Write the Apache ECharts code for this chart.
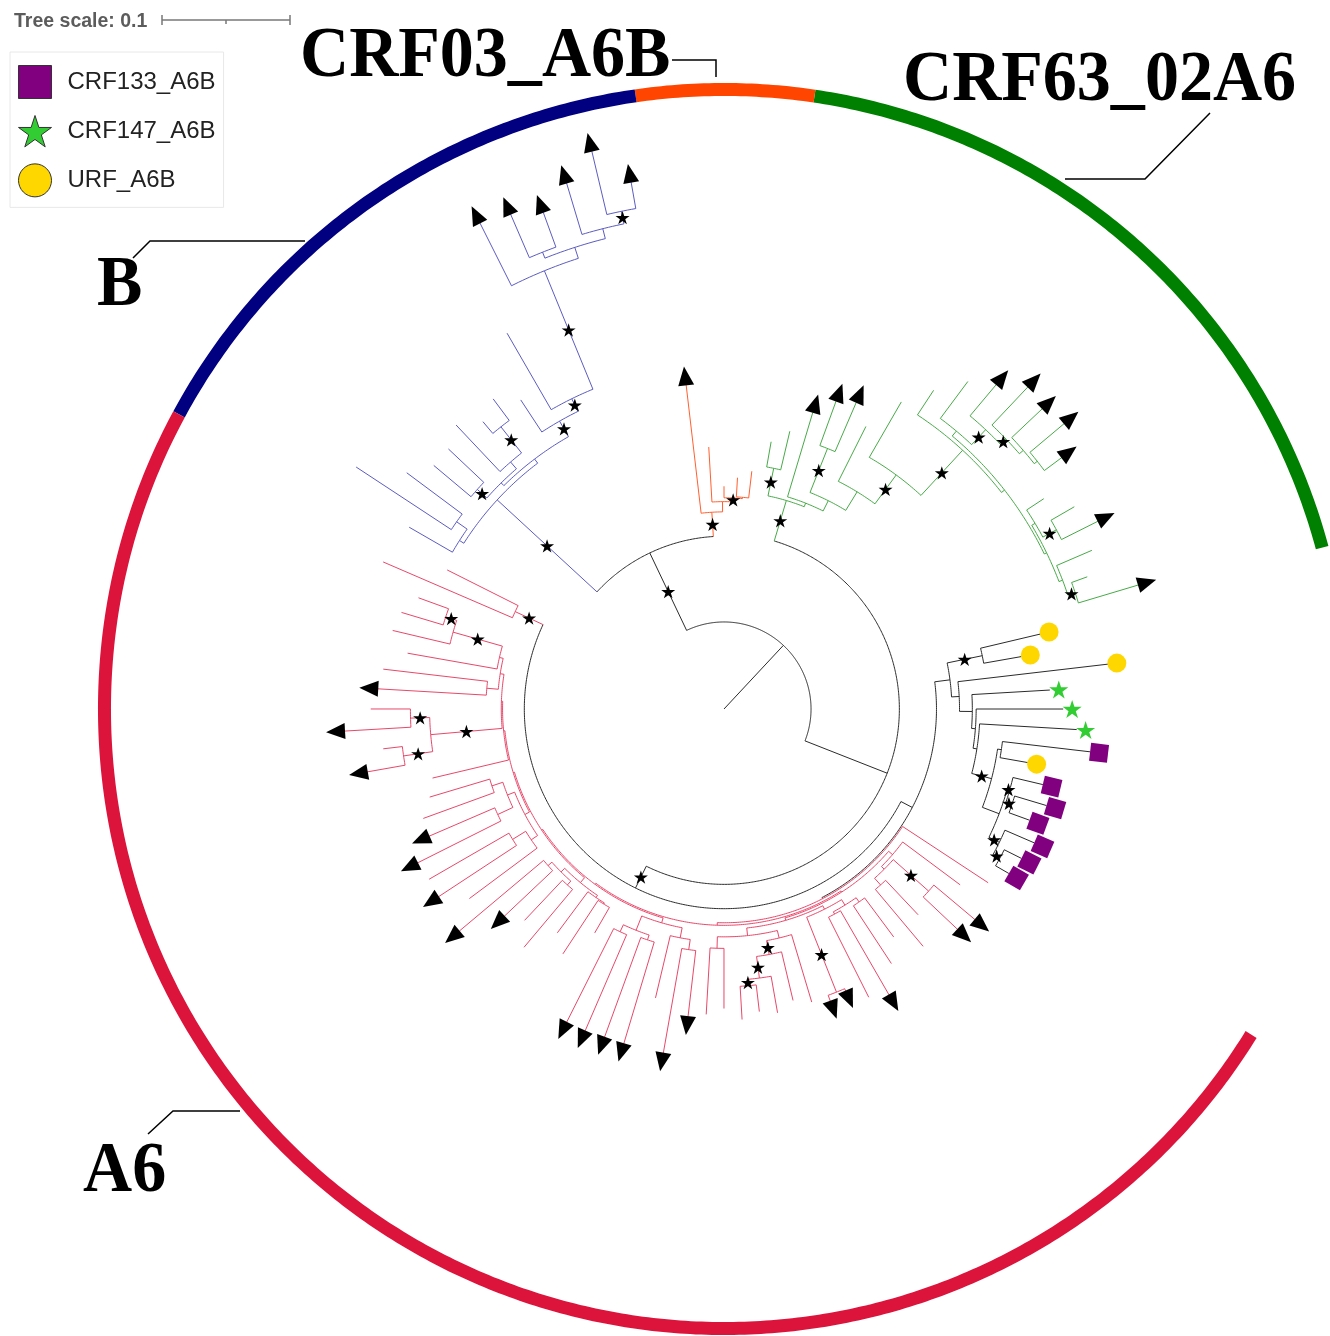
<!DOCTYPE html>
<html><head><meta charset="utf-8">
<script src="https://cdn.jsdelivr.net/npm/echarts@6/dist/echarts.min.js"></script>
<style>html,body{margin:0;padding:0;background:#fff}#c{width:1330px;height:1336px}</style>
</head><body><div id="c"></div>
<script>
// ================= DATA =================
// Newick topology. Number after ':' = node depth (distance from the tree centre,
// in 0.001 substitutions/site). Leaf marks: t = reference (triangle),
// q = CRF133_A6B, s = CRF147_A6B, y = URF_A6B. '*' = supported node (bootstrap star).
// Upper-case leaf names are sub-clades defined below.
const treeBackbone = "(((RED2,(REDX,BLACK):166)*:156,GREEN):137,(ORANGE,BLUE)*:135):68";
const cladeRed2 = "(:242,:290)*:180";
const cladeRedX = "((((((RGA,:234):173,RA2):172,RA3):171,RA4):170,((RA5,RA6):172,RA7):170):169,:247):167";
const subRedGA = "(((((:254,:263)*:229,:266)*:220,:251):180,(:268,t:271):186):177,((:276,t:297)*:245,(:268,t:283)*:253)*:230):174";
const subRedA2 = "(((:240,:250):191,(t:251,t:268):195):182,((:266,t:267):194,:248):182):176";
const subRedA3 = "(((t:270,t:236):184,(:227,:243):184):180,(:218,(:229,:202):179):178):176";
const subRedA4 = "(((t:274,t:274):192,(t:273,t:273):190):186,(:232,(t:273,t:242):190):182):174";
const subRedA5 = "((:239,:234):187,((((:243,:238)*:217,:241)*:212,:234)*:195,:239):184):178";
const subRedA6 = "((t:243,t:240)*:238,((:252,t:258):182,(:238,:222):184):180):175";
const subRedA7 = "(((:242,:221):184,(t:251,t:256)*:214):177,:230):174";
const cladeBlack = "(((((((((q:257,q:260)*:245,q:264)*:239,((q:254,q:263)*:237,q:256)*:232):230,(y:241,q:288):219)*:216,s:276):200,s:265):197,s:255):194,y:302):184,(y:236,y:254)*:206):178";
const cladeGreen = "((((((((((t:338,:302)*:289,:313):283,((t:327,:316)*:295,:299):283):280,(((((t:329,t:347):312,t:342):309,t:346)*:305,t:331)*:299,:319):283):278,:298)*:275,:277)*:227,:247):199,(t:261,t:256)*:219):182,t:242):173,(:223,:212)*:192)*:170";
const cladeOrange = "((((:187,:181):166,:174)*:165,:205):162,t:255)*:154";
const cladeBlue = "((((((((t:418,t:448)*:397,t:429):387,(t:413,t:421):384):379,t:425)*:370,:339)*:270,:289)*:259,(((:302,:293)*:281,:305):255,(:296,:296)*:258):248):245,((:309,:344):255,:284):245)*:241";

const firstLeafAngle = 153.33;           // degrees, counter-clockwise from east
const lineColors = ['#2b2b2b', '#e8486a', '#5c5cc2', '#48aa48', '#ff6030'];
const cladeColorIndex = {RED2: 1, REDX: 1, BLACK: 0, GREEN: 3, ORANGE: 4, BLUE: 2};

const ringNames  = ['CRF63_02A6', 'CRF03_A6B', 'B', 'A6'];
const ringFrom   = [15.1, 81.6, 98.2, 151.6];
const ringTo     = [81.6, 98.2, 151.6, 328.3];
const ringColors = ['#008000', '#FF4500', '#000080', '#DC143C'];
const ringDepth  = 484;

const legendNames  = ['CRF133_A6B', 'CRF147_A6B', 'URF_A6B'];
const legendColors = ['#800080', '#32CD32', '#FFD700'];
const scaleBarUnits = 100;   // 0.1 substitutions/site

// ================= BUILD =================
const NAMED = {RED2: cladeRed2, REDX: cladeRedX, RGA: subRedGA, RA2: subRedA2, RA3: subRedA3,
  RA4: subRedA4, RA5: subRedA5, RA6: subRedA6, RA7: subRedA7, BLACK: cladeBlack,
  GREEN: cladeGreen, ORANGE: cladeOrange, BLUE: cladeBlue};

function parseNewick(str) {
  let i = 0;
  function node() {
    const n = {children: [], label: '', depth: 0};
    if (str[i] === '(') {
      i++;
      n.children.push(node());
      while (str[i] === ',') { i++; n.children.push(node()); }
      if (str[i] !== ')') throw new Error('newick error at ' + i);
      i++;
    }
    while (i < str.length && ':,()'.indexOf(str[i]) < 0) n.label += str[i++];
    if (str[i] === ':') { i++; let num = ''; while (i < str.length && /[0-9.]/.test(str[i])) num += str[i++]; n.depth = parseFloat(num); }
    return n;
  }
  return node();
}
function expand(n, ci) {
  if (!n.children.length && NAMED[n.label]) {
    const c2 = cladeColorIndex[n.label] !== undefined ? cladeColorIndex[n.label] : ci;
    return expand(parseNewick(NAMED[n.label]), c2);
  }
  n.color = ci;
  n.children = n.children.map(c => expand(c, ci));
  return n;
}
const tree = expand(parseNewick(treeBackbone), 0);
const leaves = [];
(function cl(n) { if (!n.children.length) leaves.push(n); else n.children.forEach(cl); })(tree);
const STEP = 360 / leaves.length;
leaves.forEach((l, k) => { l.angle = firstLeafAngle + k * STEP; });
(function sa(n) { if (n.children.length) { n.children.forEach(sa); n.angle = (n.children[0].angle + n.children[n.children.length - 1].angle) / 2; } })(tree);

const norm = a => ((a % 360) + 360) % 360;
const TIP = 7;
const branchData = [], triData = [], bootData = [], qData = [], sData = [], yData = [];
(function walk(n, pd) {
  branchData.push([pd, n.depth, n.angle, n.color, 0]);
  if (n.label === '*') bootData.push([(pd + n.depth) / 2, norm(n.angle)]);
  if (n.children.length) {
    branchData.push([n.depth, n.children[0].angle, n.children[n.children.length - 1].angle, n.color, 1]);
    n.children.forEach(c => walk(c, n.depth));
  } else {
    const item = {value: [n.depth + TIP, norm(n.angle)], symbolRotate: norm(n.angle) - 90};
    if (n.label === 't') triData.push(item);
    else if (n.label === 'q') qData.push({value: item.value, symbolRotate: norm(n.angle)});
    else if (n.label === 's') sData.push({value: item.value});
    else if (n.label === 'y') yData.push({value: item.value});
  }
})(tree, 0);
const ringData = ringNames.map((nm, k) => [ringDepth, ringFrom[k], ringTo[k], k, 1]);

function arcPoints(api, r, a0, a1) {
  const n = Math.max(2, Math.ceil(Math.abs(a1 - a0) / 0.5) + 1), pts = [];
  for (let k = 0; k < n; k++) pts.push(api.coord([r, norm(a0 + (a1 - a0) * k / (n - 1))]));
  return pts;
}
function branchRender(params, api) {
  const kind = api.value(4), col = lineColors[api.value(3)];
  let pts;
  if (kind === 0) { const a = norm(api.value(2)); pts = [api.coord([api.value(0), a]), api.coord([api.value(1), a])]; }
  else pts = arcPoints(api, api.value(0), api.value(1), api.value(2));
  return {type: 'polyline', silent: true, shape: {points: pts}, style: {stroke: col, lineWidth: 1, fill: null}};
}
function ringRender(params, api) {
  return {type: 'polyline', silent: true, shape: {points: arcPoints(api, api.value(0), api.value(1), api.value(2))},
    style: {stroke: ringColors[api.value(3)], lineWidth: 13, fill: null, lineCap: 'butt'}};
}

const STAR = 'path://M50 0 L61.2 34.5 L97.6 34.5 L68.2 55.9 L79.4 90.5 L50 69.1 L20.6 90.5 L31.8 55.9 L2.4 34.5 L38.8 34.5 Z';
const CENTER = [724, 709], RADIUS_PX = 640, RADIUS_UNITS = 500;
const barPx = scaleBarUnits * RADIUS_PX / RADIUS_UNITS;

const labelFont = 'bold 72px "Liberation Serif", "Times New Roman", serif';
function bigLabel(text, x, y) {
  return {type: 'text', x: x, y: y, scaleX: 0.945, silent: true,
    style: {text: text, font: labelFont, fill: '#000', align: 'left', verticalAlign: 'top', textAlign: 'left', textVerticalAlign: 'top'}};
}
function leader(pts) { return {type: 'polyline', silent: true, shape: {points: pts}, style: {stroke: '#000', lineWidth: 1.5, fill: null}}; }

const option = {
  animation: false,
  backgroundColor: '#ffffff',
  title: {text: 'Tree scale: 0.1', left: 14, top: 12, padding: 0,
    textStyle: {fontSize: 19.5, fontWeight: 'bold', color: '#5c5c5c', fontFamily: 'Liberation Sans, Arial, sans-serif'}},
  legend: {
    left: 10, top: 52, orient: 'vertical', padding: [13, 8, 10, 8], itemWidth: 33, itemHeight: 33, itemGap: 16,
    borderColor: '#e8e8e8', borderWidth: 1, selectedMode: false,
    textStyle: {fontSize: 24, color: '#222', fontFamily: 'Liberation Sans, Arial, sans-serif', padding: [0, 0, 0, 11]},
    data: [
      {name: legendNames[0], icon: 'rect', itemStyle: {borderColor: '#333', borderWidth: 1, opacity: 1}},
      {name: legendNames[1], icon: STAR, itemStyle: {borderColor: '#333', borderWidth: 1, opacity: 1}},
      {name: legendNames[2], icon: 'circle', itemStyle: {borderColor: '#333', borderWidth: 1, opacity: 1}}
    ]
  },
  polar: {center: CENTER, radius: RADIUS_PX},
  angleAxis: {type: 'value', min: 0, max: 360, startAngle: 0, clockwise: false, show: false,
    axisLine: {show: false}, axisTick: {show: false}, axisLabel: {show: false}, splitLine: {show: false}},
  radiusAxis: {type: 'value', min: 0, max: RADIUS_UNITS, show: false,
    axisLine: {show: false}, axisTick: {show: false}, axisLabel: {show: false}, splitLine: {show: false}},
  graphic: [
    {type: 'line', silent: true, shape: {x1: 162, y1: 20, x2: 162 + barPx, y2: 20}, style: {stroke: '#777', lineWidth: 1.5}},
    {type: 'line', silent: true, shape: {x1: 162, y1: 15, x2: 162, y2: 25}, style: {stroke: '#777', lineWidth: 1.5}},
    {type: 'line', silent: true, shape: {x1: 162 + barPx, y1: 15, x2: 162 + barPx, y2: 25}, style: {stroke: '#777', lineWidth: 1.5}},
    {type: 'line', silent: true, shape: {x1: 162 + barPx / 2, y1: 20, x2: 162 + barPx / 2, y2: 24}, style: {stroke: '#777', lineWidth: 1.5}},
    bigLabel(ringNames[1], 300, 21),
    bigLabel(ringNames[0], 903, 45),
    bigLabel(ringNames[2], 97, 250),
    bigLabel(ringNames[3], 83, 1136),
    leader([[672, 60], [716, 60], [716, 77]]),
    leader([[305, 241], [150, 241], [133, 258]]),
    leader([[1065, 179], [1145, 179], [1210, 113]]),
    leader([[240, 1111], [173, 1111], [148, 1134]])
  ],
  series: [
    {type: 'custom', coordinateSystem: 'polar', renderItem: ringRender, data: ringData, silent: true, z: 1},
    {type: 'custom', coordinateSystem: 'polar', renderItem: branchRender, data: branchData, silent: true, z: 2},
    {type: 'scatter', coordinateSystem: 'polar', symbol: 'triangle', symbolSize: [16, 19], itemStyle: {color: '#000', opacity: 1}, data: triData, silent: true, z: 3},
    {type: 'scatter', coordinateSystem: 'polar', symbol: STAR, symbolKeepAspect: true, symbolSize: 14, itemStyle: {color: '#000', opacity: 1}, data: bootData, silent: true, z: 4},
    {name: legendNames[0], type: 'scatter', coordinateSystem: 'polar', symbol: 'rect', symbolSize: 18, itemStyle: {color: legendColors[0], opacity: 1}, data: qData, silent: true, z: 4},
    {name: legendNames[1], type: 'scatter', coordinateSystem: 'polar', symbol: STAR, symbolKeepAspect: true, symbolSize: 19, itemStyle: {color: legendColors[1], opacity: 1}, data: sData, silent: true, z: 4},
    {name: legendNames[2], type: 'scatter', coordinateSystem: 'polar', symbol: 'circle', symbolSize: 19, itemStyle: {color: legendColors[2], opacity: 1}, data: yData, silent: true, z: 4}
  ]
};
const chart = echarts.init(document.getElementById('c'), null, {renderer: 'canvas'});
chart.setOption(option);
</script>
</body></html>
